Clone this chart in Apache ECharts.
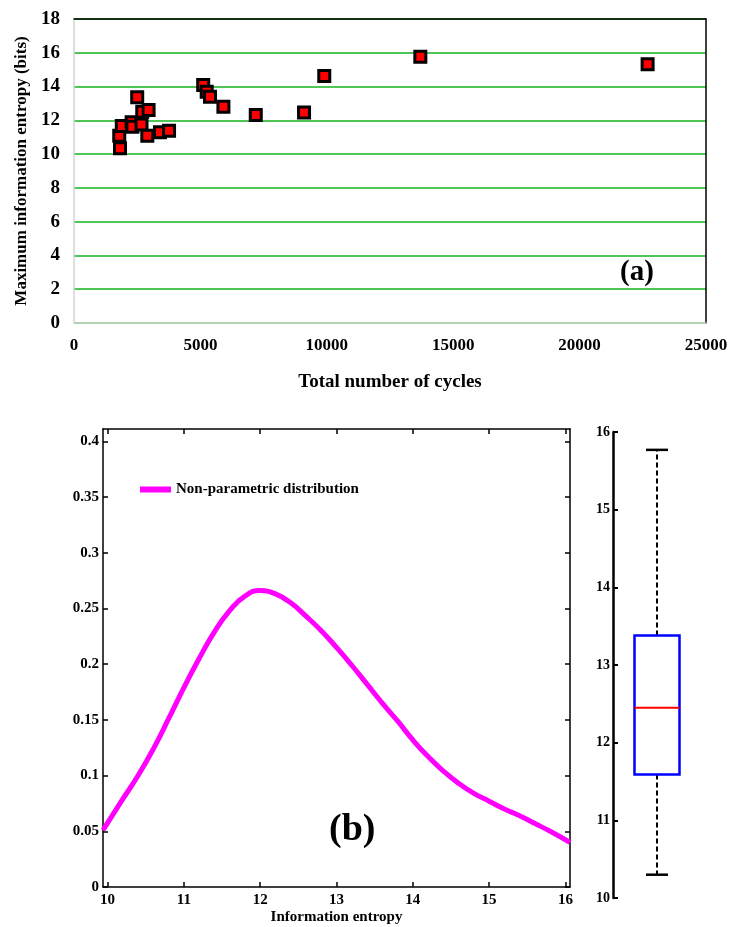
<!DOCTYPE html>
<html>
<head>
<meta charset="utf-8">
<script src="https://cdn.jsdelivr.net/npm/echarts@6/dist/echarts.min.js"></script>
<style>
  html, body { margin: 0; padding: 0; background: #fff; }
  #chart { width: 732px; height: 927px; }
</style>
</head>
<body>
<div id="chart"></div>
<script>
// (a) scatter: total cycles vs max information entropy
const cycles = [1790, 1820, 1890, 2280, 2310, 2500, 2670, 2700, 2900, 2950, 3400, 3760, 5110, 5250, 5380, 5910, 7190, 9100, 9900, 13700, 22690];
const maxEntropy = [11.09, 10.34, 11.66, 11.88, 11.62, 13.36, 11.76, 12.51, 11.09, 12.61, 11.29, 11.38, 14.09, 13.69, 13.40, 12.80, 12.31, 12.47, 14.62, 15.77, 15.32];
const cycleTicks = [0, 5000, 10000, 15000, 20000, 25000];
const entropyTicks = [0, 2, 4, 6, 8, 10, 12, 14, 16, 18];

// (b) non-parametric density
const entropyX = [9.94, 10.2, 10.4, 10.6, 10.8, 11.0, 11.2, 11.4, 11.6, 11.8, 12.0, 12.2, 12.4, 12.6, 12.8, 13.0, 13.2, 13.4, 13.6, 13.8, 14.0, 14.2, 14.4, 14.6, 14.8, 15.0, 15.2, 15.4, 15.6, 15.8, 16.06];
const density = [0.051, 0.079, 0.100, 0.124, 0.151, 0.179, 0.205, 0.229, 0.248, 0.261, 0.266, 0.263, 0.255, 0.243, 0.230, 0.215, 0.199, 0.182, 0.165, 0.149, 0.132, 0.117, 0.104, 0.093, 0.084, 0.077, 0.070, 0.064, 0.057, 0.050, 0.040];
const densityXTicks = [10, 11, 12, 13, 14, 15, 16];
const densityYTicks = [0, 0.05, 0.1, 0.15, 0.2, 0.25, 0.3, 0.35, 0.4];

// box plot: [lower whisker, Q1, median, Q3, upper whisker]
const boxStats = [10.30, 11.59, 12.45, 13.38, 15.77];
const boxTicks = [10, 11, 12, 13, 14, 15, 16];

const serif = '"Liberation Serif", "DejaVu Serif", serif';
const lbl = (size) => ({ color: '#000', fontFamily: serif, fontWeight: 'bold', fontSize: size });

function frameAxis (grid, pos, min, max, ticks) {
  return {
    type: 'value', gridIndex: grid, position: pos, min: min, max: max,
    axisLine: { show: true, onZero: false, lineStyle: { color: '#000', width: 1.5 } },
    axisTick: ticks ? { show: true, inside: true, length: 5, customValues: ticks, lineStyle: { color: '#000', width: 1.5 } } : { show: false },
    axisLabel: { show: false },
    splitLine: { show: false }
  };
}

const chart = echarts.init(document.getElementById('chart'), null, { renderer: 'canvas' });

chart.setOption({
  backgroundColor: '#fff',
  animation: false,
  grid: [
    { left: 74, top: 19, width: 632, height: 304, outerBoundsMode: 'none' },
    { left: 103, top: 429, width: 467, height: 458, outerBoundsMode: 'none' },
    { left: 613, top: 432, width: 88, height: 466, outerBoundsMode: 'none' }
  ],
  legend: {
    data: [{ name: 'Non-parametric distribution', icon: 'rect' }],
    left: 135, top: 477,
    itemWidth: 31, itemHeight: 6, itemGap: 4,
    textStyle: lbl(15)
  },
  xAxis: [
    {
      type: 'value', gridIndex: 0, min: 0, max: 25000, interval: 5000,
      axisLine: { show: true, lineStyle: { color: '#d4d4d4', width: 1.5 } },
      axisTick: { show: false },
      axisLabel: Object.assign(lbl(17), { margin: 14, customValues: cycleTicks, formatter: (v) => String(v) }),
      splitLine: { show: false },
      name: 'Total number of cycles', nameLocation: 'middle', nameGap: 50,
      nameTextStyle: lbl(19)
    },
    frameAxis(0, 'top', 0, 1, null),
    {
      type: 'value', gridIndex: 1, min: 9.94, max: 16.06,
      axisLine: { show: true, onZero: false, lineStyle: { color: '#000', width: 1.5 } },
      axisTick: { show: true, inside: true, length: 5, customValues: densityXTicks, lineStyle: { color: '#000', width: 1.5 } },
      axisLabel: Object.assign(lbl(15), { margin: 6, customValues: densityXTicks }),
      splitLine: { show: false },
      name: 'Information entropy', nameLocation: 'middle', nameGap: 23,
      nameTextStyle: lbl(15)
    },
    frameAxis(1, 'top', 9.94, 16.06, densityXTicks),
    {
      type: 'value', gridIndex: 2, min: 0, max: 1, show: false
    }
  ],
  yAxis: [
    {
      type: 'value', gridIndex: 0, min: 0, max: 18, interval: 2,
      axisLine: { show: true, lineStyle: { color: '#d4d4d4', width: 1.5 } },
      axisTick: { show: false },
      axisLabel: Object.assign(lbl(19), { margin: 14, customValues: entropyTicks }),
      splitLine: { show: true, lineStyle: { color: '#14b41e', width: 1.5 } },
      name: 'Maximum information entropy (bits)', nameLocation: 'middle', nameGap: 43,
      nameTextStyle: lbl(17)
    },
    frameAxis(0, 'right', 0, 1, null),
    {
      type: 'value', gridIndex: 1, min: 0, max: 0.411,
      axisLine: { show: true, onZero: false, lineStyle: { color: '#000', width: 1.5 } },
      axisTick: { show: true, inside: true, length: 5, customValues: densityYTicks, lineStyle: { color: '#000', width: 1.5 } },
      axisLabel: Object.assign(lbl(15), {
        margin: 4, customValues: densityYTicks,
        formatter: (v) => String(+v.toFixed(2))
      }),
      splitLine: { show: false }
    },
    frameAxis(1, 'right', 0, 0.411, densityYTicks),
    {
      type: 'value', gridIndex: 2, min: 10, max: 16, interval: 1,
      axisLine: { show: true, lineStyle: { color: '#000', width: 2.5 } },
      axisTick: { show: true, inside: true, length: 5, customValues: boxTicks, lineStyle: { color: '#000', width: 2 } },
      axisLabel: Object.assign(lbl(14), { margin: 3, customValues: boxTicks }),
      splitLine: { show: false }
    }
  ],
  graphic: [
    { type: 'text', left: 620, top: 258, style: { text: '(a)', font: 'bold 29px ' + serif, fill: '#000' } },
    { type: 'text', left: 329, top: 811, style: { text: '(b)', font: 'bold 38px ' + serif, fill: '#000' } }
  ],
  series: [
    {
      type: 'scatter', xAxisIndex: 0, yAxisIndex: 0,
      data: cycles.map((c, i) => [c, maxEntropy[i]]),
      symbol: 'rect', symbolSize: 11,
      itemStyle: { color: '#ff0000', borderColor: '#000', borderWidth: 3, opacity: 1 }
    },
    {
      name: 'Non-parametric distribution',
      type: 'line', xAxisIndex: 2, yAxisIndex: 2,
      data: entropyX.map((x, i) => [x, density[i]]),
      smooth: true, showSymbol: false,
      color: '#ff00ff',
      lineStyle: { color: '#ff00ff', width: 5 }
    },
    {
      type: 'custom', xAxisIndex: 4, yAxisIndex: 4,
      data: [[0.5].concat(boxStats)],
      encode: { x: 0, y: [1, 2, 3, 4, 5] },
      renderItem: function (params, api) {
        const x = api.value(0);
        const lo = api.coord([x, api.value(1)]);
        const q1 = api.coord([x, api.value(2)]);
        const md = api.coord([x, api.value(3)]);
        const q3 = api.coord([x, api.value(4)]);
        const hi = api.coord([x, api.value(5)]);
        const cx = lo[0];
        const dash = { stroke: '#000', lineWidth: 2, lineDash: [5, 3] };
        const solid = { stroke: '#000', lineWidth: 2.5 };
        return {
          type: 'group',
          children: [
            { type: 'line', shape: { x1: cx, y1: q3[1], x2: cx, y2: hi[1] }, style: dash },
            { type: 'line', shape: { x1: cx, y1: q1[1], x2: cx, y2: lo[1] }, style: dash },
            { type: 'line', shape: { x1: cx - 11, y1: hi[1], x2: cx + 11, y2: hi[1] }, style: solid },
            { type: 'line', shape: { x1: cx - 11, y1: lo[1], x2: cx + 11, y2: lo[1] }, style: solid },
            { type: 'rect', shape: { x: cx - 22.5, y: q3[1], width: 45, height: q1[1] - q3[1] },
              style: { fill: '#fff', stroke: '#0000ff', lineWidth: 2.5 } },
            { type: 'line', shape: { x1: cx - 22.5, y1: md[1], x2: cx + 22.5, y2: md[1] },
              style: { stroke: '#ff0000', lineWidth: 2 } }
          ]
        };
      }
    }
  ]
});
</script>
</body>
</html>
